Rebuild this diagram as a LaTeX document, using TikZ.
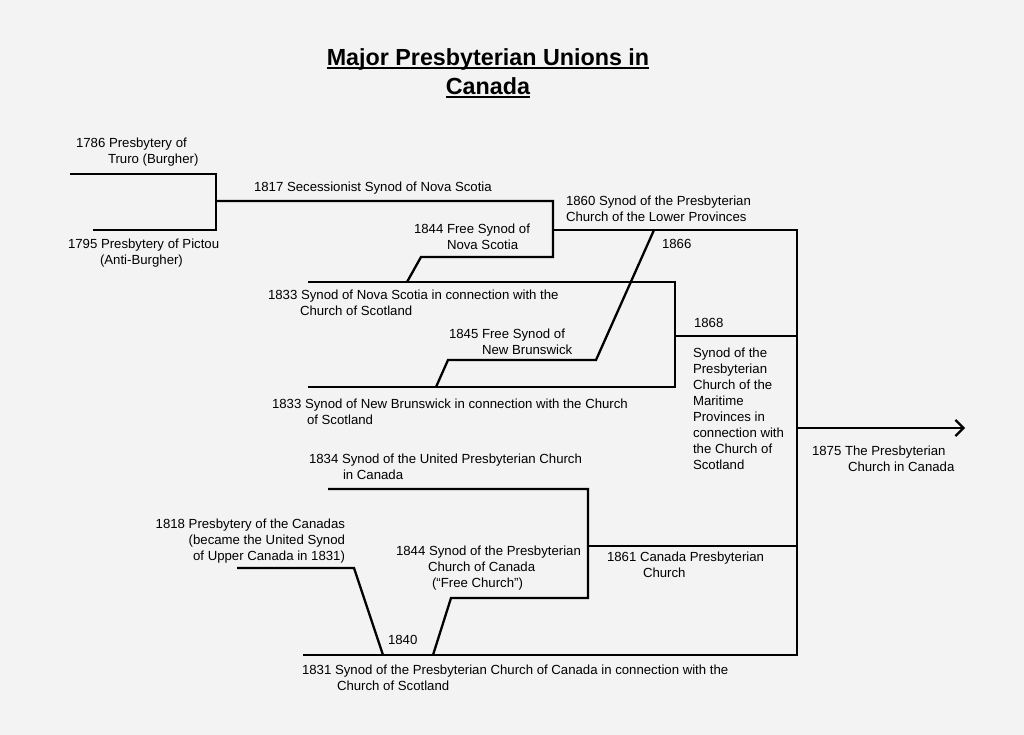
\documentclass[tikz,border=0pt]{standalone}
\usepackage{fontspec}
\setmainfont{Liberation Sans}
\usetikzlibrary{arrows.meta}
\definecolor{paper}{RGB}{243,243,243}
\newcommand\myul[1]{\setbox0\hbox{#1}\rlap{\rule[-3.4pt]{\wd0}{1.9pt}}\box0}
\begin{document}
\begin{tikzpicture}[x=1pt,y=-1pt,
  rule/.style={line width=2.3pt,line join=miter,line cap=butt,black},
  lbl/.style={inner sep=0pt,outer sep=0pt,align=left,anchor=base west,
    font=\fontsize{13.2}{16}\selectfont},
  lblr/.style={lbl,align=right,anchor=base east},
  ttl/.style={inner sep=0pt,align=center,anchor=base,
    font=\fontsize{23.3}{29}\selectfont\bfseries}]
\fill[paper] (0,0) rectangle (1024,735);
\useasboundingbox (0,0) rectangle (1024,735);
% junction coordinates
\coordinate (T1) at (70,174);  \coordinate (T2) at (216,174);
\coordinate (P1) at (93,230);  \coordinate (P2) at (216,230);
\coordinate (J1) at (216,201); \coordinate (S2) at (553,201);
\coordinate (S3) at (553,257); \coordinate (F1) at (421,257);
\coordinate (F2) at (407,282);
\coordinate (NS1) at (308,282); \coordinate (NS2) at (675,282);
\coordinate (NB2) at (675,387); \coordinate (NB1) at (308,387);
\coordinate (L1) at (553,230); \coordinate (L2) at (797,230);
\coordinate (K1) at (654,230); \coordinate (K2) at (596,360);
\coordinate (B1) at (448,360); \coordinate (B2) at (436,387);
\coordinate (M1) at (675,336); \coordinate (M2) at (797,336);
\coordinate (A1) at (797,428); \coordinate (A2) at (965,428);
\coordinate (C1) at (588,546); \coordinate (C2) at (797,546);
\coordinate (U1) at (328,489); \coordinate (U2) at (588,489);
\coordinate (U3) at (588,598); \coordinate (G1) at (451,598);
\coordinate (G2) at (433,655);
\coordinate (Q1) at (237,568); \coordinate (Q2) at (354,568);
\coordinate (Q3) at (383,655);
\coordinate (R1) at (303,655); \coordinate (R2) at (797,655);
% connectors
\draw[rule] (T1) -- (T2) -- (P2) -- (P1);
\draw[rule] (J1) -- (S2) -- (S3) -- (F1) -- (F2);
\draw[rule] (NS1) -- (NS2) -- (NB2) -- (NB1);
\draw[rule] (L1) -- (L2) -- (R2) -- (R1);
\draw[rule] (K1) -- (K2) -- (B1) -- (B2);
\draw[rule] (M1) -- (M2);
\draw[rule,-{Straight Barb[length=8pt,width=16pt,line width=2.3pt]}] (A1) -- (A2);
\draw[rule] (C1) -- (C2);
\draw[rule] (U1) -- (U2) -- (U3) -- (G1) -- (G2);
\draw[rule] (Q1) -- (Q2) -- (Q3);
% title
\node[ttl] (title) at (488,95) {\myul{Major Presbyterian Unions in}\\\myul{Canada}};
% labels
\node[lbl] (truro) at (76,164) {1786 Presbytery of\\\hspace*{32pt}Truro (Burgher)};
\node[lbl] (pictou) at (68,264) {1795 Presbytery of Pictou\\\hspace*{32pt}(Anti-Burgher)};
\node[lbl] (sec) at (254,192) {1817 Secessionist Synod of Nova Scotia};
\node[lbl] (fsns) at (414,249) {1844 Free Synod of\\\hspace*{33pt}Nova Scotia};
\node[lbl] (lower) at (566,222) {1860 Synod of the Presbyterian\\Church of the Lower Provinces};
\node[lbl] (y66) at (662,248) {1866};
\node[lbl] (nscs) at (268,315) {1833 Synod of Nova Scotia in connection with the\\\hspace*{32pt}Church of Scotland};
\node[lbl] (fsnb) at (449,354) {1845 Free Synod of\\\hspace*{33pt}New Brunswick};
\node[lbl] (y68) at (694,327) {1868};
\node[lbl] (mar) at (693,469) {Synod of the\\Presbyterian\\Church of the\\Maritime\\Provinces in\\connection with\\the Church of\\Scotland};
\node[lbl] (nbcs) at (272,424) {1833 Synod of New Brunswick in connection with the Church\\\hspace*{35pt}of Scotland};
\node[lbl] (pcc) at (812,471) {1875 The Presbyterian\\\hspace*{36pt}Church in Canada};
\node[lbl] (upc) at (309,479) {1834 Synod of the United Presbyterian Church\\\hspace*{34pt}in Canada};
\node[lblr] (canadas) at (345,560) {1818 Presbytery of the Canadas\\(became the United Synod\\of Upper Canada in 1831)};
\node[lbl] (free) at (396,587) {1844 Synod of the Presbyterian\\\hspace*{32pt}Church of Canada\\\hspace*{36pt}(“Free Church”)};
\node[lbl] (y40) at (388,644) {1840};
\node[lbl] (cscs) at (302,690) {1831 Synod of the Presbyterian Church of Canada in connection with the\\\hspace*{35pt}Church of Scotland};
\node[lbl] (cpc) at (607,577) {1861 Canada Presbyterian\\\hspace*{36pt}Church};
\end{tikzpicture}
\end{document}
